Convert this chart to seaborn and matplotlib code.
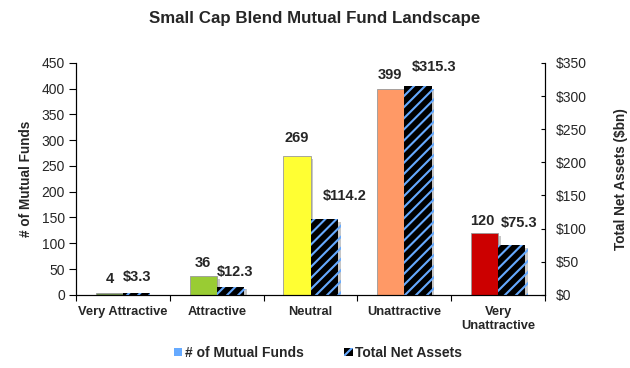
import matplotlib
matplotlib.use("Agg")
import matplotlib.pyplot as plt
import matplotlib.patheffects as pe
from matplotlib.patches import Patch
import seaborn as sns
import pandas as pd
import numpy as np

categories = ["Very Attractive", "Attractive", "Neutral", "Unattractive", "Very\nUnattractive"]
num_funds = [4, 36, 269, 399, 120]
total_assets = [3.3, 12.3, 114.2, 315.3, 75.3]
fund_colors = ["#6E8F4E", "#99CC33", "#FFFF33", "#FF9966", "#CC0000"]
left_ticks = [0, 50, 100, 150, 200, 250, 300, 350, 400, 450]
right_ticks = [0, 50, 100, 150, 200, 250, 300, 350]

# label offsets (pixels) from the top centre of each bar: styling only
fund_label_off = [(0, 14), (0, 13), (0, 18), (-1, 14), (-2, 12)]
asset_label_off = [(0, 16), (5, 15), (21, 23), (16, 19), (7, 22)]

sns.set_theme(style="white")
plt.rcParams["font.family"] = ["Liberation Sans", "DejaVu Sans"]
plt.rcParams["hatch.linewidth"] = 1.5

S1, S2 = "# of Mutual Funds", "Total Net Assets"
df = pd.DataFrame({
    "category": categories * 2,
    "series": [S1] * 5 + [S2] * 5,
    "funds": num_funds + [0] * 5,
    "assets": [0] * 5 + total_assets,
})

fig = plt.figure(figsize=(6.3, 3.68), dpi=100)
ax = fig.add_axes([0.121, 0.199, 0.744, 0.630])
ax2 = ax.twinx()

sns.barplot(data=df, x="category", y="funds", hue="series", hue_order=[S1, S2],
            order=categories, ax=ax, width=0.58, linewidth=0, legend=False)
sns.barplot(data=df, x="category", y="assets", hue="series", hue_order=[S1, S2],
            order=categories, ax=ax2, width=0.58, linewidth=0, legend=False)

shadow = [pe.SimplePatchShadow(offset=(2, -2), shadow_rgbFace="#999999", alpha=0.55), pe.Normal()]

for bar, col in zip(ax.containers[0], fund_colors):
    bar.set_facecolor(col)
    bar.set_edgecolor("#999999")
    bar.set_linewidth(0.6)
    bar.set_path_effects(shadow)
for bar in ax.containers[1]:
    bar.set_visible(False)
for bar in ax2.containers[0]:
    bar.set_visible(False)
for bar in ax2.containers[1]:
    bar.set_facecolor("black")
    bar.set_edgecolor("#66AAFF")
    bar.set_hatch("///")
    bar.set_linewidth(0)
    bar.set_path_effects(shadow)

px = 0.72  # points per pixel at 100 dpi
for bar, v, (dx, dy) in zip(ax.containers[0], num_funds, fund_label_off):
    ax.annotate(f"{v}", (bar.get_x() + bar.get_width() / 2, bar.get_height()),
                xytext=(dx * px, dy * px), textcoords="offset points",
                ha="center", va="center", fontsize=10.5, fontweight="bold")
for bar, v, (dx, dy) in zip(ax2.containers[1], total_assets, asset_label_off):
    ax2.annotate(f"${v}", (bar.get_x() + bar.get_width() / 2, bar.get_height()),
                 xytext=(dx * px, dy * px), textcoords="offset points",
                 ha="center", va="center", fontsize=10.5, fontweight="bold")

ax.set_ylim(0, 450)
ax2.set_ylim(0, 350)
ax.set_xlim(-0.5, 4.5)
ax.set_yticks(left_ticks)
ax2.set_yticks(right_ticks)
ax2.set_yticklabels([f"${t}" for t in right_ticks])
ax.set_xticks(range(5))
ax.set_xticklabels(categories, fontweight="bold", fontsize=9.3)
ax.set_xticks(np.arange(-0.5, 5, 1), minor=True)
ax.tick_params(axis="x", which="major", length=0, pad=8)
ax.tick_params(axis="x", which="minor", length=4, width=0.8, color="black", direction="out", bottom=True)
ax.tick_params(axis="y", length=5, width=0.8, color="black", direction="out", left=True, labelsize=10, pad=3)
ax2.tick_params(axis="y", length=3, width=0.8, color="black", direction="in", right=True, labelsize=10, pad=8)
ax.set_xlabel("")
ax.set_ylabel("# of Mutual Funds", fontsize=9.8, fontweight="bold", labelpad=6)
ax2.set_ylabel("Total Net Assets ($bn)", fontsize=9.8, fontweight="bold", labelpad=19)
for a in (ax, ax2):
    for s in ("left", "right", "bottom"):
        a.spines[s].set_color("black")
        a.spines[s].set_linewidth(0.8)
    a.spines["top"].set_visible(False)
    a.grid(False)

fig.suptitle("Small Cap Blend Mutual Fund Landscape", fontsize=12.2, fontweight="bold", y=0.97)

handles = [Patch(facecolor="#66AAFF", edgecolor="none"),
           Patch(facecolor="black", edgecolor="#66AAFF", hatch="///", linewidth=0)]
fig.legend(handles, [S1, S2], loc="lower center", bbox_to_anchor=(0.505, -0.012), ncol=2,
           frameon=False, handlelength=0.6, handleheight=0.6, handletextpad=0.2,
           columnspacing=2.9, prop={"weight": "bold", "size": 10})

fig.savefig("out.png", dpi=100)
